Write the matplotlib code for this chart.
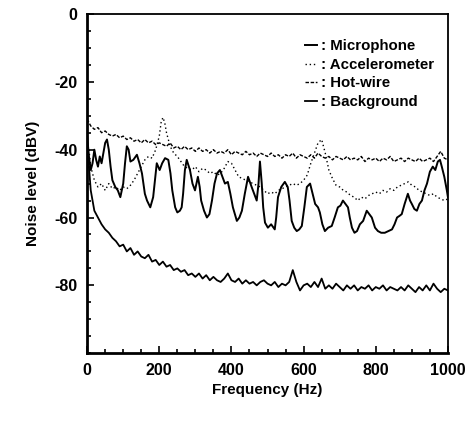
import numpy as np
import matplotlib
matplotlib.use("Agg")
import matplotlib.pyplot as plt
from matplotlib.ticker import MultipleLocator

plt.rcParams['font.family'] = ['Liberation Sans', 'DejaVu Sans']
plt.rcParams['font.weight'] = 'bold'
plt.rcParams['axes.unicode_minus'] = False

# background noise, 10 Hz steps
bg_freq = list(range(0, 1001, 10))
bg_level = [-38, -52, -58, -60, -62, -63.5, -64.5, -66, -67, -68.5,
            -68, -70, -69, -71, -70, -71.5, -72, -71, -73, -72.5,
            -74, -73, -74.5, -74, -75.5, -75, -76, -75.5, -77, -76.5,
            -77.5, -76.5, -78, -77, -78.5, -77.5, -78.5, -79, -78, -76.5,
            -78.5, -79, -78, -79.5, -78.5, -79.5, -79, -80, -79, -78.5,
            -79.5, -80, -79, -80.5, -79.5, -80, -79, -75.5, -79, -81.5,
            -80, -79.5, -80.5, -79, -80.5, -78, -81, -80, -81, -79.5,
            -80.5, -81.5, -80, -81, -80, -81.5, -80.5, -81, -80, -81.5,
            -80.5, -81, -80, -81.5, -80.5, -81, -81.5, -80.5, -81.5, -80,
            -81, -82, -80.5, -81.5, -80, -81.5, -79.5, -81, -82, -81,
            -81.5]

# hot-wire, 10 Hz steps
hw_freq = list(range(0, 1001, 10))
hw_level = [-31, -33, -34, -33.5, -35, -34.5, -35.5, -36, -35.5, -36.5,
            -36, -37, -36.5, -37.5, -37, -38, -37, -38, -37.5, -38.5,
            -38, -38.5, -39, -38, -39.5, -39, -40, -39, -40, -39.5,
            -40.5, -39.5, -40.5, -40, -41, -40, -41, -40.5, -41, -40,
            -41.5, -40.5, -41, -41.5, -40.5, -41.5, -41, -42, -41, -41.5,
            -42, -41, -42, -41.5, -42.5, -41.5, -42, -41, -42.5, -41.5,
            -42, -42.5, -41.5, -42.5, -41, -42, -42.5, -42, -43, -42,
            -42.5, -43, -42, -43, -42.5, -43, -42, -43.5, -42.5, -43,
            -42.5, -43.5, -42.5, -43, -42, -43.5, -43, -42.5, -43.5, -42.5,
            -43, -43.5, -42.5, -43.5, -43, -42.5, -43.5, -42, -40.5, -42.5,
            -43]

# accelerometer
acc_freq = [5, 10, 20, 30, 40, 50, 60, 70, 80, 90, 100, 110, 120, 130, 140,
            150, 160, 170, 180, 190, 200, 205, 210, 215, 220, 230, 240, 250,
            260, 270, 280, 290, 300, 310, 320, 330, 340, 350, 360, 370, 380,
            390, 400, 410, 420, 430, 440, 450, 460, 470, 480, 490, 500, 510,
            520, 530, 540, 550, 560, 570, 580, 590, 600, 610, 620, 630, 640,
            650, 660, 670, 680, 690, 700, 710, 720, 730, 740, 750, 760, 770,
            780, 790, 800, 810, 820, 830, 840, 850, 860, 870, 880, 890, 900,
            910, 920, 930, 940, 950, 960, 970, 980, 990, 1000]
acc_level = [-40, -45, -49, -51, -50, -52, -50, -51.5, -51, -52, -51, -51.5,
             -50.5, -49, -47, -45, -43, -42, -42.5, -40, -36, -32, -30.5, -32,
             -35, -39, -41, -42, -43.5, -45, -45.5, -46, -45, -46.5, -45.5,
             -46, -47, -46.5, -47.5, -47, -45.5, -43.5, -44, -46, -48, -48.5,
             -49, -49.5, -50, -50.5, -51, -52, -53, -52.5, -53, -52, -51.5,
             -51, -50.5, -50, -50.5, -50, -49, -47.5, -44, -41, -38, -37, -41,
             -46, -48.5, -50.5, -51, -52, -52.5, -53.5, -54, -55, -54, -54.5,
             -53.5, -53, -52.5, -53, -52, -52.5, -51.5, -52, -51, -50.5, -50,
             -49.5, -50.5, -51, -52, -52.5, -53, -53.5, -53, -54, -54.5, -55,
             -54.5]

# microphone
mic_freq = [0, 5, 10, 15, 20, 25, 30, 35, 40, 45, 50, 55, 60, 65, 70, 78, 85,
            92, 100, 105, 110, 115, 120, 128, 138, 145, 152, 160, 166, 175,
            183, 188, 193, 201, 208, 216, 225, 231, 236, 244, 250, 257, 262,
            266, 271, 276, 285, 292, 299, 307, 312, 316, 324, 332, 339, 346,
            353, 360, 368, 375, 382, 390, 397, 404, 415, 422, 429, 437, 446,
            456, 463, 470, 475, 479, 484, 488, 493, 501, 510, 520, 524, 529,
            538, 548, 556, 561, 567, 574, 581, 588, 595, 602, 609, 618, 625,
            632, 640, 645, 652, 659, 668, 678, 686, 695, 702, 709, 716, 723,
            728, 734, 741, 748, 756, 765, 775, 782, 789, 798, 806, 815, 825,
            835, 845, 852, 859, 866, 872, 880, 889, 895, 900, 907, 914, 921,
            928, 935, 942, 950, 958, 965, 972, 978, 983, 990, 997, 1000]
mic_level = [-36, -42, -46, -44, -40, -43, -45, -42, -44, -41, -38, -37, -40,
             -45, -49, -51, -52, -54, -50, -44, -39, -40, -43.5, -43, -41.5,
             -44, -47, -53, -55, -57, -54, -49, -44, -46, -44, -42.5, -43, -47,
             -52, -57, -58.5, -58, -57, -53, -46, -43, -46, -50, -52, -48, -51,
             -55, -58, -60, -59, -55, -50, -47, -46, -48, -50, -49.5, -53, -57,
             -61, -60, -58, -53, -48, -51, -53, -55, -50, -43.5, -50, -57,
             -61.5, -63, -62, -63.5, -60, -54, -51, -49.5, -51, -55, -61, -63,
             -64, -63.5, -62.5, -57, -51, -50, -53, -56, -57, -58.5, -62, -64,
             -63, -62.5, -60, -57, -56.5, -55, -56, -57, -60, -63, -64.5, -64,
             -62, -61, -58, -59, -60, -63, -64, -64.5, -64.5, -64, -63.5, -62,
             -60, -59.5, -59, -56, -53, -55, -56, -57.5, -58, -56, -55, -52,
             -50, -46.5, -45, -46, -43.5, -43, -45, -48, -52, -54]

fig = plt.figure(figsize=(4.71, 4.24), dpi=100)
ax = fig.add_axes([0.185, 0.167, 0.766, 0.800])

ax.plot(mic_freq, mic_level, color='black', lw=1.4, label=': Microphone')
ax.plot(acc_freq, acc_level, color='black', lw=1.0, linestyle=(0, (1, 2)),
        label=': Accelerometer')
ax.plot(hw_freq, hw_level, color='black', lw=1.0, linestyle=(0, (2.5, 1.2)),
        label=': Hot-wire')
ax.plot(bg_freq, bg_level, color='black', lw=1.3, label=': Background')

ax.set_xlim(0, 1000)
ax.set_ylim(-100, 0)
ax.set_xticks([0, 200, 400, 600, 800, 1000])
ax.set_yticks([-80, -60, -40, -20, 0])
ax.xaxis.set_minor_locator(MultipleLocator(50))
ax.yaxis.set_minor_locator(MultipleLocator(5))
ax.tick_params(which='both', direction='in', top=False, right=False,
               labelsize=11.5, width=1.2)
ax.tick_params(which='major', length=5, pad=7)
ax.tick_params(which='minor', length=3)
for side in ['left', 'bottom']:
    ax.spines[side].set_linewidth(2)
for side in ['top', 'right']:
    ax.spines[side].set_linewidth(1.3)

ax.set_xlabel('Frequency (Hz)', fontsize=11, fontweight='bold', labelpad=4)
ax.set_ylabel('Noise level (dBV)', fontsize=11, fontweight='bold', labelpad=10)

leg = ax.legend(loc='upper right', bbox_to_anchor=(1.0, 0.965), frameon=False,
                handlelength=0.8, handletextpad=0.3, labelspacing=0.3,
                prop={'size': 10.8, 'weight': 'bold'})

plt.savefig('out.png', dpi=100)
